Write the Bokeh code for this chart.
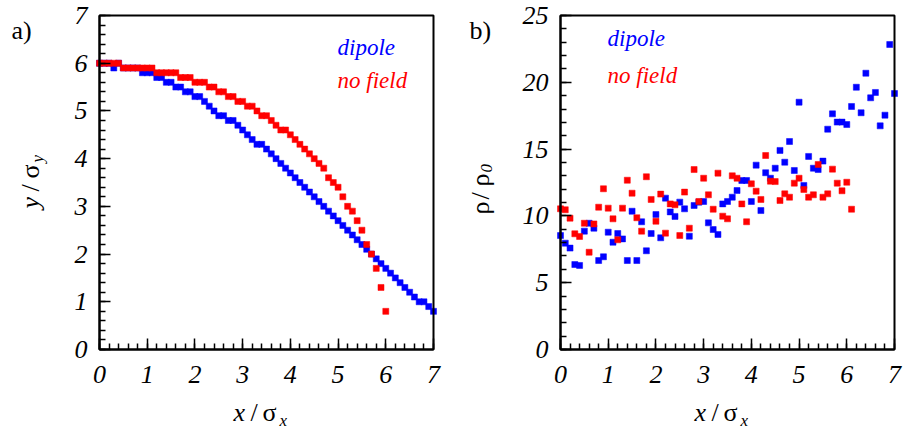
import math
from bokeh.plotting import figure
from bokeh.models import Range1d, FixedTicker, Label, LinearAxis, BoxAnnotation
from bokeh.layouts import row
from bokeh.embed import file_html
from bokeh.resources import INLINE

# ---------------- data ----------------
step = 0.1
# panel a: trajectory y/sigma_y vs x/sigma_x
a_dipole_y = [6.0, 6.0, 6.0, 5.9, 6.0, 5.9, 5.9, 5.9, 5.9, 5.8,
              5.8, 5.8, 5.7, 5.7, 5.6, 5.6, 5.5, 5.5, 5.4, 5.4,
              5.3, 5.3, 5.2, 5.1, 5.0, 4.9, 4.9, 4.8, 4.8, 4.7,
              4.6, 4.5, 4.4, 4.3, 4.3, 4.2, 4.1, 4.0, 3.9, 3.8,
              3.7, 3.6, 3.5, 3.4, 3.3, 3.2, 3.1, 3.0, 2.9, 2.8,
              2.7, 2.6, 2.5, 2.4, 2.3, 2.2, 2.1, 2.0, 1.9, 1.8,
              1.7, 1.6, 1.5, 1.4, 1.3, 1.2, 1.1, 1.0, 1.0, 0.9,
              0.8]
a_nofield_y = [6.0, 6.0, 6.0, 6.0, 6.0, 5.9, 5.9, 5.9, 5.9, 5.9,
               5.9, 5.9, 5.8, 5.8, 5.8, 5.8, 5.8, 5.7, 5.7, 5.7,
               5.6, 5.6, 5.6, 5.5, 5.5, 5.4, 5.4, 5.3, 5.3, 5.2,
               5.2, 5.1, 5.1, 5.0, 4.9, 4.9, 4.8, 4.7, 4.6, 4.6,
               4.5, 4.4, 4.3, 4.2, 4.1, 4.0, 3.9, 3.8, 3.6, 3.5,
               3.4, 3.2, 3.0, 2.9, 2.7, 2.5, 2.2, 2.0, 1.7, 1.3,
               0.8]
# panel b: density rho/rho_0 vs x/sigma_x
b_dipole_rho = [8.53, 7.96, 7.59, 6.36, 6.29, 8.86, 9.45, 9.08, 6.66, 6.94,
                8.78, 8.03, 8.68, 8.28, 6.66, 10.35, 6.66, 9.56, 7.39, 8.68,
                10.1, 8.36, 11.33, 10.3, 9.96, 11.03, 10.53, 8.48, 10.78, 11.03,
                11.08, 9.48, 8.98, 8.61, 10.9, 11.08, 11.4, 11.9, 12.65, 12.65,
                11.08, 13.8, 10.4, 13.23, 12.82, 13.57, 14.9, 14.02, 15.57, 13.4,
                18.51, 12.28, 14.45, 13.57, 13.47, 14.1, 16.49, 17.64, 17.02, 17.02,
                16.84, 18.19, 19.63, 17.72, 20.68, 18.84, 19.24, 16.74, 17.54, 22.83,
                19.16]
b_nofield_rho = [10.53, 10.46, 9.83, 8.66, 8.46, 9.45, 7.28, 9.4, 10.65, 12.03,
                 10.58, 9.78, 8.21, 10.58, 12.67, 11.7, 9.86, 8.86, 12.93, 11.23,
                 9.6, 11.63, 8.71, 10.9, 10.83, 8.53, 11.78, 9.08, 13.47, 11.08,
                 12.82, 11.58, 10.5, 13.2, 9.98, 9.78, 13.0, 12.82, 10.9, 9.56,
                 12.4, 11.85, 11.23, 14.52, 12.6, 12.57, 11.15, 11.65, 11.4, 12.45,
                 12.82, 11.98, 11.4, 11.58, 13.85, 11.4, 11.65, 13.5, 12.45, 11.88,
                 12.52, 10.5]
x_ticks = [0, 1, 2, 3, 4, 5, 6, 7]
x_minor = [round(i * 0.2, 2) for i in range(36)]
a_y_ticks = [0, 1, 2, 3, 4, 5, 6, 7]
a_y_minor = [round(i * 0.2, 2) for i in range(36)]
b_y_ticks = [0, 5, 10, 15, 20, 25]
b_y_minor = list(range(26))


def xs(n):
    return [round(i * step, 2) for i in range(n)]


BLUE = "#0000ff"
RED = "#ff0000"
FONT = "Liberation Serif"

# screen geometry of the two plot boxes (px)
FW = 334.0
TOP = 15.0
BOT = 349.0
HEIGHT = 439
XMAX = 7.0


def make_panel(width, box_left, ymax, yticks, yminor):
    kx = FW / XMAX
    ky = FW / ymax
    p = figure(width=width, height=HEIGHT,
               x_range=Range1d(-box_left / kx, (width - box_left) / kx),
               y_range=Range1d(-(HEIGHT - BOT) / ky, ymax + TOP / ky),
               x_axis_location=None, y_axis_location=None,
               output_backend="svg", toolbar_location=None, min_border=0)
    p.grid.visible = False
    p.outline_line_color = None
    p.background_fill_color = "white"
    p.border_fill_color = "white"
    xa = LinearAxis(fixed_location=0, bounds=(0, XMAX),
                    ticker=FixedTicker(ticks=x_ticks, minor_ticks=x_minor))
    ya = LinearAxis(fixed_location=0, bounds=(0, ymax),
                    ticker=FixedTicker(ticks=yticks, minor_ticks=yminor))
    for ax in (xa, ya):
        ax.axis_line_width = 2
        ax.major_tick_in = 11
        ax.major_tick_out = 0
        ax.minor_tick_in = 6
        ax.minor_tick_out = 0
        ax.major_tick_line_width = 1.5
        ax.minor_tick_line_width = 1.5
        ax.major_label_text_font = FONT
        ax.major_label_text_font_style = "italic"
        ax.major_label_text_font_size = "26px"
        ax.major_label_text_color = "black"
    xa.major_label_standoff = 16
    ya.major_label_standoff = 12
    p.add_layout(xa, "below")
    p.add_layout(ya, "left")
    p.add_layout(BoxAnnotation(left=0, right=XMAX, bottom=0, top=ymax,
                               fill_alpha=0, line_color="black", line_alpha=1.0,
                               line_width=2))
    fx = lambda px: (px - box_left) / kx
    fy = lambda py: (BOT - py) / ky
    return p, fx, fy


def add_text(p, fx, fy, x, y, text, size, color="black", style="normal", angle=0.0):
    p.add_layout(Label(x=fx(x), y=fy(y), text=text, text_font=FONT,
                       text_font_size=f"{size}px", text_font_style=style,
                       text_color=color, angle=angle, angle_units="rad",
                       text_align="left", text_baseline="alphabetic"))


def add_points(p, x, y, color):
    p.scatter(x, y, marker="square", size=6, fill_color=color,
              line_color=color, line_alpha=0.5, line_width=1)


# ---------------- panel a ----------------
WA = 465
pa, fxa, fya = make_panel(WA, 99.0, 7.0, a_y_ticks, a_y_minor)
add_points(pa, xs(len(a_dipole_y)), a_dipole_y, BLUE)
add_points(pa, xs(len(a_nofield_y)), a_nofield_y, RED)

add_text(pa, fxa, fya, 337, 47, "dipole", 23, BLUE, "italic")
add_text(pa, fxa, fya, 337, 80, "no field", 23, RED, "italic")
add_text(pa, fxa, fya, 11, 30, "a)", 26)
# x title
add_text(pa, fxa, fya, 233, 412, "x", 26, style="italic")
add_text(pa, fxa, fya, 250, 412, "/", 26)
add_text(pa, fxa, fya, 262, 412, "σ", 26)
add_text(pa, fxa, fya, 279, 420, "x", 17, style="italic")
# y title (rotated)
add_text(pa, fxa, fya, 30, 208, "y", 26, style="italic", angle=math.pi / 2)
add_text(pa, fxa, fya, 30, 191, "/", 26, angle=math.pi / 2)
add_text(pa, fxa, fya, 30, 178, "σ", 26, angle=math.pi / 2)
add_text(pa, fxa, fya, 37, 162, "y", 17, style="italic", angle=math.pi / 2)

# ---------------- panel b ----------------
WB = 906 - WA
pb, fxb, fyb = make_panel(WB, 560.0 - WA, 25.0, b_y_ticks, b_y_minor)
add_points(pb, xs(len(b_dipole_rho)), b_dipole_rho, BLUE)
add_points(pb, xs(len(b_nofield_rho)), b_nofield_rho, RED)

fxb2 = lambda px: fxb(px - WA)
fyb2 = fyb
add_text(pb, fxb2, fyb2, 607, 38, "dipole", 23, BLUE, "italic")
add_text(pb, fxb2, fyb2, 607, 75, "no field", 23, RED, "italic")
add_text(pb, fxb2, fyb2, 469, 30, "b)", 26)
add_text(pb, fxb2, fyb2, 694, 412, "x", 26, style="italic")
add_text(pb, fxb2, fyb2, 711, 412, "/", 26)
add_text(pb, fxb2, fyb2, 723, 412, "σ", 26)
add_text(pb, fxb2, fyb2, 740, 420, "x", 17, style="italic")
add_text(pb, fxb2, fyb2, 480, 214, "ρ", 26, angle=math.pi / 2)
add_text(pb, fxb2, fyb2, 480, 199, "/", 26, angle=math.pi / 2)
add_text(pb, fxb2, fyb2, 480, 186, "ρ", 26, angle=math.pi / 2)
add_text(pb, fxb2, fyb2, 486, 172, "0", 17, style="italic", angle=math.pi / 2)

layout = row(pa, pb, spacing=0)
open("out.html", "w").write(file_html(layout, INLINE))
